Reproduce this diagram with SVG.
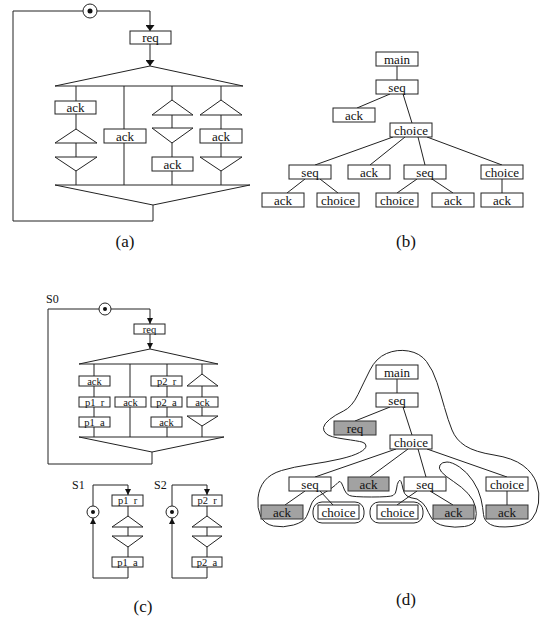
<svg xmlns="http://www.w3.org/2000/svg" width="543" height="617" viewBox="0 0 543 617">
<style>
.ln{fill:none;stroke:#222;stroke-width:1}
.bx{fill:#fff;stroke:#222;stroke-width:1}
.gb{fill:#a2a2a2;stroke:#333;stroke-width:1}
.tri{fill:#fff;stroke:#222;stroke-width:1}
.t{font-family:"Liberation Serif","Times New Roman",serif;font-size:13px;text-anchor:middle;fill:#111}
.ts{font-family:"Liberation Serif","Times New Roman",serif;font-size:10.5px;text-anchor:middle;fill:#111;white-space:pre}
.lbl{font-family:"Liberation Serif","Times New Roman",serif;font-size:17px;text-anchor:middle;fill:#111}
.sl{font-family:"Liberation Serif","Times New Roman",serif;font-size:12px;fill:#111}
</style>
<defs>
<marker id="arr" viewBox="0 0 10 10" refX="10" refY="5" markerWidth="6" markerHeight="9" markerUnits="userSpaceOnUse" orient="auto" preserveAspectRatio="none"><path d="M0,0 L10,5 L0,10 z" fill="#111"/></marker>
<marker id="arrs" viewBox="0 0 10 10" refX="10" refY="5" markerWidth="6" markerHeight="6" markerUnits="userSpaceOnUse" orient="auto" preserveAspectRatio="none"><path d="M0,0 L10,5 L0,10 z" fill="#111"/></marker>
</defs>

<g id="connectors">
<path class="ln" d="M83,11 H13 V221 H153 V205"/>
<path class="ln" d="M97,11 H150 V31" marker-end="url(#arr)"/>
<path class="ln" d="M150,44 V66" marker-end="url(#arr)"/>
<path class="ln" d="M76,86 V185 M124,86 V185 M172,86 V185 M221,86 V185"/>
<path class="ln" d="M397,66 V80 M390,94 L357,108 M403,94 L412,123 M393,137 L315,165 M405,137 L370,165 M418,137 L425,165 M427,137 L502,165 M305,179 L287,193 M320,179 L338,193 M417,179 L397,193 M432,179 L453,193 M502,179 V193"/>
<path class="ln" d="M99,309 H48 V464 H152 V452"/>
<path class="ln" d="M111,309 H150 V324" marker-end="url(#arrs)"/>
<path class="ln" d="M150,334 V349" marker-end="url(#arrs)"/>
<path class="ln" d="M94,364 V437 M130,364 V437 M167,364 V437 M202,364 V437"/>
<path class="ln" d="M93,506 V485 H128 V495" marker-end="url(#arrs)"/>
<path class="ln" d="M128,506 V557"/>
<path class="ln" d="M128,567 V578 H93 V518" marker-end="url(#arrs)"/>
<path class="ln" d="M172,506 V485 H207 V495" marker-end="url(#arrs)"/>
<path class="ln" d="M207,506 V557"/>
<path class="ln" d="M207,567 V578 H172 V518" marker-end="url(#arrs)"/>
<path class="ln" d="M397,379 V393 M390,407 L355,421 M403,407 L412,435 M396,449 L315,477 M408,449 L370,477 M418,449 L426,477 M427,449 L507,477 M305,491 L285,505 M320,491 L333,505 M417,491 L397,505 M430,491 L453,505 M507,491 V505"/>
</g>

<g id="a-start"><circle class="bx" cx="90" cy="11" r="7"/><circle cx="90" cy="11" r="2.5" fill="#111"/></g>
<g id="a-req"><rect class="bx" x="130" y="31" width="41" height="13"/><text class="t" x="150.5" y="41.5">req</text></g>
<g id="a-fork"><polygon class="tri" points="150,66 55,86 243,86"/></g>
<g id="a-merge"><polygon class="tri" points="55,185 250,185 153,205"/></g>
<g id="a-c1"><rect class="bx" x="55" y="101" width="41" height="13"/><text class="t" x="75.5" y="111.5">ack</text>
<polygon class="tri" points="76,129 55,143 97,143"/><polygon class="tri" points="55,157 97,157 76,171"/></g>
<g id="a-c2"><rect class="bx" x="104" y="129" width="42" height="14"/><text class="t" x="125" y="140.5">ack</text></g>
<g id="a-c3"><polygon class="tri" points="172,100 152,115 193,115"/><polygon class="tri" points="152,128 193,128 172,143"/>
<rect class="bx" x="152" y="157" width="41" height="14"/><text class="t" x="172.5" y="168.5">ack</text></g>
<g id="a-c4"><polygon class="tri" points="221,100 200,115 242,115"/><rect class="bx" x="200" y="129" width="42" height="14"/><text class="t" x="221" y="140.5">ack</text>
<polygon class="tri" points="200,157 242,157 221,171"/></g>
<text class="lbl" x="125" y="247">(a)</text>

<g id="b-main"><rect class="bx" x="376" y="52" width="42" height="14"/><text class="t" x="397" y="63.5">main</text></g>
<g id="b-seq"><rect class="bx" x="376" y="80" width="42" height="14"/><text class="t" x="397" y="91.5">seq</text></g>
<g id="b-ack1"><rect class="bx" x="333" y="108" width="42" height="14"/><text class="t" x="354" y="119.5">ack</text></g>
<g id="b-choice"><rect class="bx" x="390" y="123" width="42" height="14"/><text class="t" x="411" y="134.5">choice</text></g>
<g id="b-seq2"><rect class="bx" x="289" y="165" width="42" height="14"/><text class="t" x="310" y="176.5">seq</text></g>
<g id="b-ack2"><rect class="bx" x="348" y="165" width="42" height="14"/><text class="t" x="369" y="176.5">ack</text></g>
<g id="b-seq3"><rect class="bx" x="404" y="165" width="42" height="14"/><text class="t" x="425" y="176.5">seq</text></g>
<g id="b-choice2"><rect class="bx" x="481" y="165" width="42" height="14"/><text class="t" x="502" y="176.5">choice</text></g>
<g id="b-ack3"><rect class="bx" x="262" y="193" width="42" height="14"/><text class="t" x="283" y="204.5">ack</text></g>
<g id="b-choice3"><rect class="bx" x="317" y="193" width="42" height="14"/><text class="t" x="338" y="204.5">choice</text></g>
<g id="b-choice4"><rect class="bx" x="376" y="193" width="42" height="14"/><text class="t" x="397" y="204.5">choice</text></g>
<g id="b-ack4"><rect class="bx" x="432" y="193" width="42" height="14"/><text class="t" x="453" y="204.5">ack</text></g>
<g id="b-ack5"><rect class="bx" x="481" y="193" width="42" height="14"/><text class="t" x="502" y="204.5">ack</text></g>
<text class="lbl" x="406" y="247">(b)</text>

<text class="sl" x="46" y="303">S0</text>
<g id="c-start"><circle class="bx" cx="105" cy="309" r="6"/><circle cx="105" cy="309" r="2" fill="#111"/></g>
<g id="c-req"><rect class="bx" x="134" y="324" width="31" height="10"/><text class="ts" x="149.5" y="332.5">req</text></g>
<g id="c-fork"><polygon class="tri" points="150,349 79,364 218,364"/></g>
<g id="c-merge"><polygon class="tri" points="79,437 224,437 152,452"/></g>
<g id="c-c1">
<rect class="bx" x="79" y="376" width="31" height="10"/><text class="ts" x="94.5" y="384.5">ack</text>
<rect class="bx" x="79" y="397" width="31" height="10"/><text class="ts" x="94.5" y="405.5">p1  r</text>
<rect class="bx" x="79" y="417" width="31" height="10"/><text class="ts" x="94.5" y="425.5">p1  a</text></g>
<g id="c-c2"><rect class="bx" x="115" y="397" width="31" height="10"/><text class="ts" x="130.5" y="405.5">ack</text></g>
<g id="c-c3">
<rect class="bx" x="151" y="376" width="31" height="10"/><text class="ts" x="166.5" y="384.5">p2  r</text>
<rect class="bx" x="151" y="397" width="31" height="10"/><text class="ts" x="166.5" y="405.5">p2  a</text>
<rect class="bx" x="151" y="417" width="31" height="10"/><text class="ts" x="166.5" y="425.5">ack</text></g>
<g id="c-c4"><polygon class="tri" points="202,374 187,386 218,386"/>
<rect class="bx" x="187" y="397" width="31" height="10"/><text class="ts" x="202.5" y="405.5">ack</text>
<polygon class="tri" points="187,416 218,416 202,426"/></g>

<text class="sl" x="72" y="489">S1</text>
<g id="s1-start"><circle class="bx" cx="93" cy="512" r="6"/><circle cx="93" cy="512" r="2" fill="#111"/></g>
<g id="s1-body">
<rect class="bx" x="112" y="495" width="31" height="11"/><text class="ts" x="127.5" y="504">p1  r</text>
<polygon class="tri" points="128,516 112,527 143,527"/><polygon class="tri" points="112,536 143,536 128,547"/>
<rect class="bx" x="112" y="557" width="31" height="10"/><text class="ts" x="127.5" y="565.5">p1  a</text></g>

<text class="sl" x="154" y="489">S2</text>
<g id="s2-start"><circle class="bx" cx="172" cy="512" r="6"/><circle cx="172" cy="512" r="2" fill="#111"/></g>
<g id="s2-body">
<rect class="bx" x="192" y="495" width="30" height="11"/><text class="ts" x="207" y="504">p2  r</text>
<polygon class="tri" points="207,516 192,527 222,527"/><polygon class="tri" points="192,536 222,536 207,547"/>
<rect class="bx" x="192" y="557" width="30" height="10"/><text class="ts" x="207" y="565.5">p2  a</text></g>
<text class="lbl" x="143" y="612">(c)</text>

<g id="d-outline">
<path class="ln" d="M386.5,353.5 Q397,349 408.5,351 Q420,353 426.5,361.5 Q433,370 437,382.5 Q441,395 444.5,407.5 Q448,420 452,430 Q456,440 465.5,446 Q475,452 494,455 Q513,458 523,465.5 Q533,473 536.5,483 Q540,493 538.5,503 Q537,513 532,519 Q527,525 512,526.5 Q497,528 490.5,524.5 Q484,521 483.5,514.5 Q483,508 481,499 Q479,490 473,481 Q467,472 459.5,467 Q452,462 447,462 Q442,462 440,465 Q438,468 441.5,472 Q445,476 453.5,481.5 Q462,487 468,493.5 Q474,500 475.5,507 Q477,514 475.5,519.5 Q474,525 464.5,526.5 Q455,528 445,526 Q435,524 431.5,518 Q428,512 426,507.5 Q424,503 417,499 Q410,498 407,496 Q404,494 403,489 Q402,484 401,481.5 Q400,479 398.5,481.5 Q397,484 396.5,489 Q396,494 393,495.5 Q390,497 371.5,497 Q353,497 349.5,495.5 Q346,494 344.5,490 Q343,486 341.5,483 Q340,480 338,482.5 Q336,485 331,488.5 Q326,492 319.5,495.5 Q313,499 311,505 Q309,511 306.5,516.5 Q304,522 293.5,525 Q283,528 273.5,526 Q264,524 260.5,516 Q257,508 258,498 Q259,488 264.5,481 Q270,474 281.5,470.5 Q293,467 310,464.5 Q327,462 340,459 Q353,456 359.5,452.5 Q366,449 366,446 Q366,443 362,442 Q358,441 344,439 Q330,437 326.5,434 Q323,431 323.5,427.5 Q324,424 329.5,419.5 Q335,415 343.5,411 Q352,407 358,394.5 Q364,382 370,370 Q376,358 386.5,353.5 Z"/>
<rect class="ln" x="313" y="502" width="51" height="21" rx="9"/>
<rect class="ln" x="370" y="502" width="53" height="21" rx="9"/>
</g>
<g id="d-main"><rect class="bx" x="376" y="365" width="42" height="14"/><text class="t" x="397" y="376.5">main</text></g>
<g id="d-seq"><rect class="bx" x="376" y="393" width="42" height="14"/><text class="t" x="397" y="404.5">seq</text></g>
<g id="d-req"><rect class="gb" x="334" y="421" width="42" height="14"/><text class="t" x="355" y="432.5">req</text></g>
<g id="d-choice"><rect class="bx" x="390" y="435" width="42" height="14"/><text class="t" x="411" y="446.5">choice</text></g>
<g id="d-seq2"><rect class="bx" x="289" y="477" width="42" height="14"/><text class="t" x="310" y="488.5">seq</text></g>
<g id="d-ack2"><rect class="gb" x="348" y="477" width="41" height="14"/><text class="t" x="368.5" y="488.5">ack</text></g>
<g id="d-seq3"><rect class="bx" x="404" y="477" width="42" height="14"/><text class="t" x="425" y="488.5">seq</text></g>
<g id="d-choice2"><rect class="bx" x="486" y="477" width="42" height="14"/><text class="t" x="507" y="488.5">choice</text></g>
<g id="d-ack3"><rect class="gb" x="261" y="505" width="42" height="14"/><text class="t" x="282" y="516.5">ack</text></g>
<g id="d-choice3"><rect class="bx" x="318" y="505" width="41" height="14"/><text class="t" x="338.5" y="516.5">choice</text></g>
<g id="d-choice4"><rect class="bx" x="377" y="505" width="41" height="14"/><text class="t" x="397.5" y="516.5">choice</text></g>
<g id="d-ack4"><rect class="gb" x="433" y="505" width="41" height="14"/><text class="t" x="453.5" y="516.5">ack</text></g>
<g id="d-ack5"><rect class="gb" x="486" y="505" width="42" height="14"/><text class="t" x="507" y="516.5">ack</text></g>
<text class="lbl" x="406" y="605">(d)</text>
</svg>
